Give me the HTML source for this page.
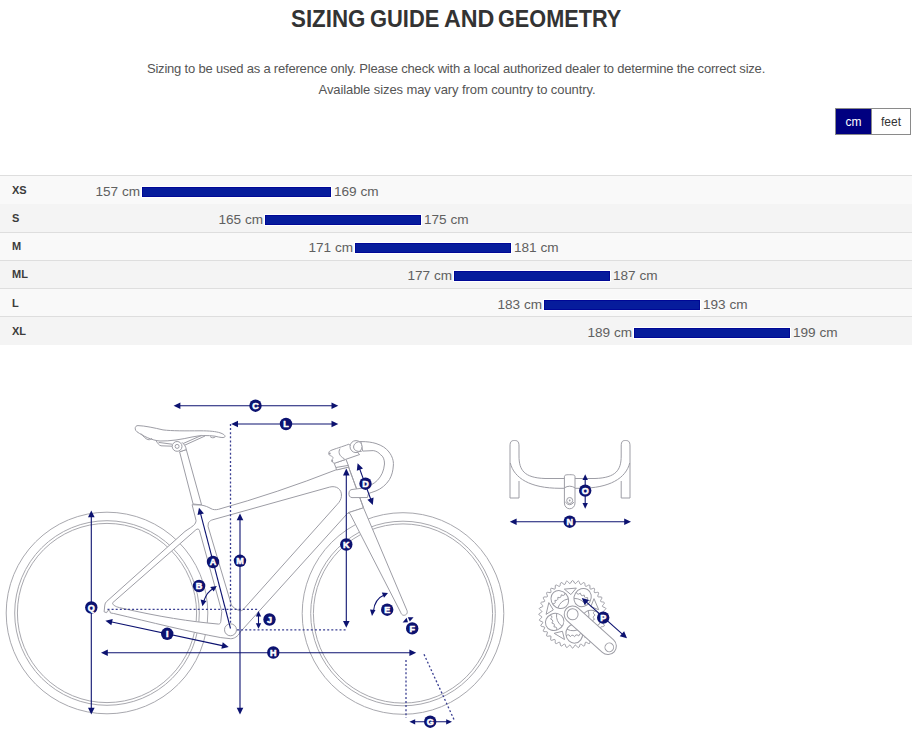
<!DOCTYPE html>
<html><head><meta charset="utf-8">
<style>
html,body{margin:0;padding:0;background:#fff;}
body{width:924px;height:738px;position:relative;overflow:hidden;font-family:"Liberation Sans",sans-serif;}
.abs{position:absolute;white-space:nowrap;}
.tw{top:5px;font-size:24px;font-weight:bold;color:#333;line-height:28px;transform-origin:0 0;}
.sub{left:0;width:912px;text-align:center;font-size:13px;color:#555;letter-spacing:-0.2px;line-height:16px;}
#toggle{left:835px;top:108px;width:74px;height:25px;border:1px solid #8a8a8a;background:#fff;font-size:12px;}
#toggle .cm{position:absolute;left:0;top:0;width:35px;height:25px;background:#000080;color:#fff;text-align:center;line-height:26px;border-right:1px solid #8a8a8a;}
#toggle .ft{position:absolute;left:36px;top:0;width:38px;height:25px;color:#333;text-align:center;line-height:26px;}

.row{position:relative;height:28px;}
.row.a{background:#f9f9f9;}
.row.b{background:#f3f3f3;}
.bl{border-top:1px solid #dcdcdc;}
.lab{position:absolute;left:12px;top:8px;font-size:11px;font-weight:bold;color:#3c3c3c;}
.bar{position:absolute;height:8px;background:#061c9c;border:1px solid #000896;box-shadow:0 0 0 1px #fff;}
.rt{position:absolute;font-size:13.6px;color:#606060;line-height:15px;}
</style></head><body>
<div class="abs tw" style="left:291.1px;transform:scaleX(0.9295)">SIZING</div><div class="abs tw" style="left:370.3px;transform:scaleX(0.9122)">GUIDE</div><div class="abs tw" style="left:443.7px;transform:scaleX(0.9700)">AND</div><div class="abs tw" style="left:498.4px;transform:scaleX(0.9037)">GEOMETRY</div>
<div class="abs sub" style="top:61px">Sizing to be used as a reference only. Please check with a local authorized dealer to determine the correct size.</div>
<div class="abs sub" style="top:82px;left:1px;letter-spacing:-0.09px">Available sizes may vary from country to country.</div>
<div id="toggle" class="abs"><div class="cm">cm</div><div class="ft">feet</div></div>
<div id="table">
<div class="abs" style="left:0;top:175px;width:912px;height:1px;background:#dedede"></div>
<div class="abs" style="left:0;top:176px;width:912px;height:28px;background:#f9f9f9"></div>
<div class="abs lab" style="top:184px">XS</div>
<div class="abs bar" style="left:142px;top:187px;width:187px"></div>
<div class="abs rt" style="right:784px;top:184px">157 cm</div>
<div class="abs rt" style="left:334px;top:184px">169 cm</div>
<div class="abs" style="left:0;top:204px;width:912px;height:28px;background:#f4f4f4"></div>
<div class="abs lab" style="top:212px">S</div>
<div class="abs bar" style="left:265px;top:215px;width:154px"></div>
<div class="abs rt" style="right:661px;top:212px">165 cm</div>
<div class="abs rt" style="left:424px;top:212px">175 cm</div>
<div class="abs" style="left:0;top:232px;width:912px;height:1px;background:#dedede"></div>
<div class="abs" style="left:0;top:233px;width:912px;height:27px;background:#f9f9f9"></div>
<div class="abs lab" style="top:240px">M</div>
<div class="abs bar" style="left:355px;top:243px;width:154px"></div>
<div class="abs rt" style="right:571px;top:240px">171 cm</div>
<div class="abs rt" style="left:514px;top:240px">181 cm</div>
<div class="abs" style="left:0;top:260px;width:912px;height:1px;background:#dedede"></div>
<div class="abs" style="left:0;top:261px;width:912px;height:27px;background:#f4f4f4"></div>
<div class="abs lab" style="top:268px">ML</div>
<div class="abs bar" style="left:454px;top:271px;width:154px"></div>
<div class="abs rt" style="right:472px;top:268px">177 cm</div>
<div class="abs rt" style="left:613px;top:268px">187 cm</div>
<div class="abs" style="left:0;top:288px;width:912px;height:1px;background:#dedede"></div>
<div class="abs" style="left:0;top:289px;width:912px;height:27px;background:#f9f9f9"></div>
<div class="abs lab" style="top:297px">L</div>
<div class="abs bar" style="left:544px;top:300px;width:154px"></div>
<div class="abs rt" style="right:382px;top:297px">183 cm</div>
<div class="abs rt" style="left:703px;top:297px">193 cm</div>
<div class="abs" style="left:0;top:316px;width:912px;height:1px;background:#dedede"></div>
<div class="abs" style="left:0;top:317px;width:912px;height:28px;background:#f4f4f4"></div>
<div class="abs lab" style="top:325px">XL</div>
<div class="abs bar" style="left:634px;top:328px;width:154px"></div>
<div class="abs rt" style="right:292px;top:325px">189 cm</div>
<div class="abs rt" style="left:793px;top:325px">199 cm</div>
</div>
<svg class="abs" style="left:0;top:0" width="924" height="738" viewBox="0 0 924 738">
<circle cx="107" cy="613" r="100.8" fill="none" stroke="#a8a8ae" stroke-width="1"/>
<circle cx="107" cy="613" r="92.3" fill="none" stroke="#a8a8ae" stroke-width="1"/>
<circle cx="107" cy="613" r="89.6" fill="none" stroke="#a8a8ae" stroke-width="1"/>
<circle cx="403" cy="613.5" r="100.8" fill="none" stroke="#a8a8ae" stroke-width="1"/>
<circle cx="403" cy="613.5" r="92.3" fill="none" stroke="#a8a8ae" stroke-width="1"/>
<circle cx="403" cy="613.5" r="89.6" fill="none" stroke="#a8a8ae" stroke-width="1"/>
<path d="M179.6,451.8 L186.3,449.6 L201.6,504.9 L193.1,504 Z" fill="#fff" stroke="#9d9da5" stroke-width="1" stroke-linejoin="round"/>
<path d="M192.1,504.7 L201.2,505.1 C205,505.6 208.5,507.2 211,508.6 C213,509.8 215.5,510 218.5,509.3 Q277,493 336.4,469.7 L348.6,467 L363.5,507.8 L348,512.8 L240.2,632.1 C238,636.5 234,638.8 230.5,638.7 L220.8,637.6 C190,632 150,622 113.3,613.4 L110.5,613 L109.6,610.6 L107.8,610.6 L106.6,612.7 L104.1,611.8 L104.8,605.1 C105,603.5 105.6,602.5 106.6,601.5 L185,531.4 C189,528.5 193,526.5 194.7,524.2 C195.8,522.5 196.2,521 196,520.3 Z M112.7,602.7 L195.8,529.9 C197.3,528.6 198.9,528.6 199.5,530.6 L221.8,611.6 L220.8,621.4 C220.5,623.5 219.5,624.2 218.6,624.1 C190,621.5 160,617 119.4,607.6 C115,606.5 112,604.5 112.7,602.7 Z M208.4,522.9 C209.5,521 211,520.2 212.9,519.7 L329.6,487.1 C336,485.3 342.3,489 341.4,496.5 C341,499.5 339.5,502 337.4,504.2 L243.6,609.1 C242,610.8 240.5,611 239.5,610.5 C236,609.5 233,607.5 231.4,605 L208,526.2 Z" fill="#fff" fill-rule="evenodd" stroke="#9d9da5" stroke-width="1" stroke-linejoin="round"/>
<path d="M348,512.8 L363.5,507.8 L407,610.6 C408,613.5 406,615.3 403.8,615.3 C402,615.3 401,613.5 400.6,612.2 L350,513.7 Z" fill="#fff" stroke="#9d9da5" stroke-width="1" stroke-linejoin="round"/>
<path d="M346,460 L363.5,507.8" fill="none" stroke="#9d9da5" stroke-width="1"/>
<circle cx="230.5" cy="629.8" r="6" fill="#fff" stroke="#9d9da5" stroke-width="1"/>
<path d="M334.2,463.2 L346,459.4 L348.3,465.4 L335.8,467.5 Z M335.8,467.5 L336.6,470 L348.8,467 L348.3,465.4" fill="#fff" stroke="#9d9da5" stroke-width="1" stroke-linejoin="round"/>
<path d="M330.4,450.7 C334,449 343,446.5 348.9,444.2 L359.7,454.5 L345.6,459.4 L334.8,463.2 C331.5,462.5 331,460 333,458.5 C334,457.5 331.5,456 330,455.5 C328,454.5 328.5,451.5 330.4,450.7 Z" fill="#fff" stroke="#9d9da5" stroke-width="1" stroke-linejoin="round"/>
<path d="M340,448.6 C338,452 339,456 344.5,458.9" fill="none" stroke="#9d9da5" stroke-width="1"/>
<circle cx="329.8" cy="453.5" r="0.9" fill="#9d9da5"/><circle cx="332.3" cy="461" r="0.9" fill="#9d9da5"/>
<path d="M360.9,441.6 C367,441.5 372,442.3 376,443.5 C382,445.5 386,448 389,452 C392.5,456.5 393.6,461 393.4,465 C393,471 392,475 389.5,479.5 C386.5,484.5 381,489 376,490.9 C373,492 370.5,492.8 368.4,493.5 L367.5,497.5 L352,497.6 C349.5,497.5 348.6,495 349,492.8 C349.3,490.5 350.5,489.7 352,489.5 L362.7,488.1 C369,486.5 374.5,483.5 377.5,480.2 C381.5,476 383.8,471 384.5,464 C384.6,459.5 383,456 380.8,454.9 C378.5,452.2 376,451 373.2,450.6 L362.7,451.1 Z" fill="#fff" stroke="#9d9da5" stroke-width="1" stroke-linejoin="round"/>
<circle cx="356" cy="446.6" r="6" fill="#fff" stroke="#9d9da5" stroke-width="1"/>
<path d="M361.3,441.6 C357,441.2 353.5,444 353.6,447 C353.7,450 356.5,452 361.8,451.3" fill="none" stroke="#9d9da5" stroke-width="1"/>
<path d="M138,425.6 C145,425.8 155,428 163,429.9 C172,431 185,430.9 200,430.8 C210,430.8 216,431.5 220,432.8 C224,434 226,436 224.5,437.2 C223,438 220,437.4 215,436.2 C208,435.2 200,435.2 192,437 C182,439.3 170,441.3 160,441 C152,440.5 143,436 137,431.8 C134.8,430.2 134.8,427.5 136,426.3 C136.5,425.8 137.2,425.6 138,425.6 Z" fill="#fff" stroke="#9d9da5" stroke-width="1" stroke-linejoin="round"/>
<path d="M141,433.5 C143,436 145.5,439 148,439.6 C150,439.9 151.3,439.5 151.8,438.2 M156,440.6 C157.5,443 158.8,445.2 161,445.8 L172,446.2 M158.6,442.4 L172,444.2 M183,443.6 L201.5,435.4 M184,445.5 L205,436 M210,436.4 C211,438 214,438.3 215.5,436.8" fill="none" stroke="#9d9da5" stroke-width="1"/>
<path d="M182,442.3 C184.5,444.5 186,447 186.3,449.6 L179.6,451.8" fill="#fff" stroke="#9d9da5" stroke-width="1"/>
<circle cx="177.1" cy="446.4" r="4.9" fill="#fff" stroke="#9d9da5" stroke-width="1"/><circle cx="177.1" cy="446.4" r="2" fill="none" stroke="#9d9da5" stroke-width="1"/>
<path d="M510,498 L510,446 C510,441 512,440.5 514.5,440.5 C517,440.5 519,441 519,446 L519,456 C519,470 524,477.8 545,478.5 L595,478.5 C616,477.8 621.2,470 621.2,456 L621.2,446 C621.2,441 623,440.5 625.5,440.5 C628,440.5 630,441 630,446 L630,498 L621.2,498 L621.2,481 M519,481 L519,498 L510,498" fill="none" stroke="#9d9da5" stroke-width="1" stroke-linejoin="round"/>
<path d="M510.3,463 C514,478 530,488.3 560,488.3 L580,488.3 C610,488.3 626,478 629.7,463" fill="none" stroke="#9d9da5" stroke-width="1"/>
<path d="M564.4,477 C564.4,475 565.5,474.7 569.7,474.7 C574,474.7 575,475 575,477 L575,503 C575,506.5 572.5,508.8 569.7,508.8 C566.9,508.8 564.4,506.5 564.4,503 Z" fill="#fff" stroke="#9d9da5" stroke-width="1" stroke-linejoin="round"/>
<path d="M564.4,487.8 Q569.7,484.6 575,487.8 M565.3,502 Q569.7,507.5 574.1,502" fill="none" stroke="#9d9da5" stroke-width="1"/>
<circle cx="569.7" cy="500.5" r="3" fill="none" stroke="#9d9da5" stroke-width="1"/><circle cx="569.7" cy="500.5" r="0.9" fill="#9d9da5"/>
<path d="M572.60,580.50 L573.33,580.95 L574.01,582.03 L574.64,583.13 L575.28,583.62 L576.00,583.25 L576.82,582.28 L577.67,581.33 L578.47,581.01 L579.11,581.58 L579.59,582.77 L580.03,583.96 L580.57,584.55 L581.34,584.31 L582.31,583.49 L583.32,582.71 L584.16,582.54 L584.69,583.21 L584.96,584.46 L585.18,585.71 L585.62,586.39 L586.42,586.28 L587.51,585.65 L588.65,585.05 L589.50,585.03 L589.91,585.78 L589.95,587.06 L589.96,588.33 L590.27,589.07 L591.07,589.11 L592.26,588.67 L593.48,588.28 L594.33,588.41 L594.60,589.22 L594.42,590.49 L594.20,591.73 L594.38,592.52 L595.17,592.70 L596.41,592.48 L597.68,592.30 L598.49,592.57 L598.62,593.42 L598.23,594.64 L597.79,595.83 L597.83,596.63 L598.57,596.94 L599.84,596.95 L601.12,596.99 L601.87,597.40 L601.85,598.25 L601.25,599.39 L600.62,600.48 L600.51,601.28 L601.19,601.72 L602.44,601.94 L603.69,602.21 L604.36,602.74 L604.19,603.58 L603.41,604.59 L602.59,605.56 L602.35,606.33 L602.94,606.87 L604.13,607.31 L605.32,607.79 L605.89,608.43 L605.57,609.23 L604.62,610.08 L603.65,610.90 L603.28,611.62 L603.77,612.26 L604.87,612.89 L605.95,613.57 L606.40,614.30 L605.95,615.03 L604.87,615.71 L603.77,616.34 L603.28,616.98 L603.65,617.70 L604.62,618.52 L605.57,619.37 L605.89,620.17 L605.32,620.81 L604.13,621.29 L602.94,621.73 L602.35,622.27 L602.59,623.04 L603.41,624.01 L604.19,625.02 L604.36,625.86 L603.69,626.39 L602.44,626.66 L601.19,626.88 L600.51,627.32 L600.62,628.12 L601.25,629.21 L601.85,630.35 L601.87,631.20 L601.12,631.61 L599.84,631.65 L598.57,631.66 L597.83,631.97 L597.79,632.77 L598.23,633.96 L598.62,635.18 L598.49,636.03 L597.68,636.30 L596.41,636.12 L595.17,635.90 L594.38,636.08 L594.20,636.87 L594.42,638.11 L594.60,639.38 L594.33,640.19 L593.48,640.32 L592.26,639.93 L591.07,639.49 L590.27,639.53 L589.96,640.27 L589.95,641.54 L589.91,642.82 L589.50,643.57 L588.65,643.55 L587.51,642.95 L586.42,642.32 L585.62,642.21 L585.18,642.89 L584.96,644.14 L584.69,645.39 L584.16,646.06 L583.32,645.89 L582.31,645.11 L581.34,644.29 L580.57,644.05 L580.03,644.64 L579.59,645.83 L579.11,647.02 L578.47,647.59 L577.67,647.27 L576.82,646.32 L576.00,645.35 L575.28,644.98 L574.64,645.47 L574.01,646.57 L573.33,647.65 L572.60,648.10 L571.87,647.65 L571.19,646.57 L570.56,645.47 L569.92,644.98 L569.20,645.35 L568.38,646.32 L567.53,647.27 L566.73,647.59 L566.09,647.02 L565.61,645.83 L565.17,644.64 L564.63,644.05 L563.86,644.29 L562.89,645.11 L561.88,645.89 L561.04,646.06 L560.51,645.39 L560.24,644.14 L560.02,642.89 L559.58,642.21 L558.78,642.32 L557.69,642.95 L556.55,643.55 L555.70,643.57 L555.29,642.82 L555.25,641.54 L555.24,640.27 L554.93,639.53 L554.13,639.49 L552.94,639.93 L551.72,640.32 L550.87,640.19 L550.60,639.38 L550.78,638.11 L551.00,636.87 L550.82,636.08 L550.03,635.90 L548.79,636.12 L547.52,636.30 L546.71,636.03 L546.58,635.18 L546.97,633.96 L547.41,632.77 L547.37,631.97 L546.63,631.66 L545.36,631.65 L544.08,631.61 L543.33,631.20 L543.35,630.35 L543.95,629.21 L544.58,628.12 L544.69,627.32 L544.01,626.88 L542.76,626.66 L541.51,626.39 L540.84,625.86 L541.01,625.02 L541.79,624.01 L542.61,623.04 L542.85,622.27 L542.26,621.73 L541.07,621.29 L539.88,620.81 L539.31,620.17 L539.63,619.37 L540.58,618.52 L541.55,617.70 L541.92,616.98 L541.43,616.34 L540.33,615.71 L539.25,615.03 L538.80,614.30 L539.25,613.57 L540.33,612.89 L541.43,612.26 L541.92,611.62 L541.55,610.90 L540.58,610.08 L539.63,609.23 L539.31,608.43 L539.88,607.79 L541.07,607.31 L542.26,606.87 L542.85,606.33 L542.61,605.56 L541.79,604.59 L541.01,603.58 L540.84,602.74 L541.51,602.21 L542.76,601.94 L544.01,601.72 L544.69,601.28 L544.58,600.48 L543.95,599.39 L543.35,598.25 L543.33,597.40 L544.08,596.99 L545.36,596.95 L546.63,596.94 L547.37,596.63 L547.41,595.83 L546.97,594.64 L546.58,593.42 L546.71,592.57 L547.52,592.30 L548.79,592.48 L550.03,592.70 L550.82,592.52 L551.00,591.73 L550.78,590.49 L550.60,589.22 L550.87,588.41 L551.72,588.28 L552.94,588.67 L554.13,589.11 L554.93,589.07 L555.24,588.33 L555.25,587.06 L555.29,585.78 L555.70,585.03 L556.55,585.05 L557.69,585.65 L558.78,586.28 L559.58,586.39 L560.02,585.71 L560.24,584.46 L560.51,583.21 L561.04,582.54 L561.88,582.71 L562.89,583.49 L563.86,584.31 L564.63,584.55 L565.17,583.96 L565.61,582.77 L566.09,581.58 L566.73,581.01 L567.53,581.33 L568.38,582.28 L569.20,583.25 L569.92,583.62 L570.56,583.13 L571.19,582.03 L571.87,580.95 Z" fill="#fff" stroke="#9d9da5" stroke-width="1" stroke-linejoin="round"/>
<ellipse cx="559.81" cy="599.58" rx="8.4" ry="9.4" transform="rotate(-41.0 559.81 599.58)" fill="none" stroke="#9d9da5" stroke-width="1"/>
<path d="M570.87,594.58 L564.33,589.12 L576.37,588.07 Z" fill="none" stroke="#9d9da5" stroke-width="1" stroke-linejoin="round"/>
<path d="M552.59,604.01 L554.57,603.53 L555.29,602.41 L554.90,600.41 L556.93,600.32 L557.85,599.35 L557.84,597.32 L559.85,597.61 L560.94,596.84 L561.31,594.84 L563.23,595.50 L564.44,594.95 L565.19,593.06" fill="none" stroke="#9d9da5" stroke-width="1"/>
<path d="M557.90,607.99 Q560.46,600.34 568.40,598.86" fill="none" stroke="#9d9da5" stroke-width="1"/>
<ellipse cx="582.64" cy="597.59" rx="8.4" ry="9.4" transform="rotate(31.0 582.64 597.59)" fill="none" stroke="#9d9da5" stroke-width="1"/>
<path d="M590.83,606.56 L593.99,598.66 L598.71,609.78 Z" fill="none" stroke="#9d9da5" stroke-width="1" stroke-linejoin="round"/>
<path d="M576.21,592.09 L577.27,593.83 L578.56,594.16 L580.34,593.17 L581.06,595.08 L582.25,595.65 L584.19,595.01 L584.53,597.02 L585.60,597.81 L587.62,597.55 L587.58,599.58 L588.48,600.56 L590.52,600.69" fill="none" stroke="#9d9da5" stroke-width="1"/>
<path d="M574.05,598.37 Q582.13,598.44 585.99,605.54" fill="none" stroke="#9d9da5" stroke-width="1"/>
<ellipse cx="591.60" cy="618.69" rx="8.4" ry="9.4" transform="rotate(103.0 591.60 618.69)" fill="none" stroke="#9d9da5" stroke-width="1"/>
<path d="M585.59,629.24 L594.09,629.81 L584.97,637.74 Z" fill="none" stroke="#9d9da5" stroke-width="1" stroke-linejoin="round"/>
<path d="M594.84,610.87 L593.52,612.42 L593.59,613.74 L595.08,615.13 L593.49,616.40 L593.32,617.72 L594.52,619.36 L592.72,620.31 L592.30,621.57 L593.17,623.41 L591.22,624.00 L590.57,625.16 L591.08,627.13" fill="none" stroke="#9d9da5" stroke-width="1"/>
<path d="M588.20,610.76 Q590.63,618.46 585.07,624.32" fill="none" stroke="#9d9da5" stroke-width="1"/>
<ellipse cx="574.30" cy="633.73" rx="8.4" ry="9.4" transform="rotate(175.0 574.30 633.73)" fill="none" stroke="#9d9da5" stroke-width="1"/>
<path d="M562.40,631.27 L564.49,639.53 L554.13,633.31 Z" fill="none" stroke="#9d9da5" stroke-width="1" stroke-linejoin="round"/>
<path d="M582.74,634.39 L580.85,633.61 L579.62,634.09 L578.76,635.94 L577.06,634.82 L575.75,635.06 L574.56,636.71 L573.10,635.29 L571.77,635.28 L570.29,636.68 L569.13,635.01 L567.82,634.75 L566.11,635.84" fill="none" stroke="#9d9da5" stroke-width="1"/>
<path d="M580.79,628.05 Q574.21,632.73 566.92,629.26" fill="none" stroke="#9d9da5" stroke-width="1"/>
<ellipse cx="554.65" cy="621.92" rx="8.4" ry="9.4" transform="rotate(247.0 554.65 621.92)" fill="none" stroke="#9d9da5" stroke-width="1"/>
<path d="M553.31,609.85 L546.10,614.38 L548.82,602.61 Z" fill="none" stroke="#9d9da5" stroke-width="1" stroke-linejoin="round"/>
<path d="M556.63,630.15 L556.79,628.12 L555.94,627.09 L553.92,626.84 L554.46,624.88 L553.83,623.71 L551.89,623.09 L552.79,621.27 L552.39,620.00 L550.60,619.02 L551.83,617.40 L551.68,616.08 L550.11,614.78" fill="none" stroke="#9d9da5" stroke-width="1"/>
<path d="M562.06,626.34 Q555.57,621.53 556.62,613.52" fill="none" stroke="#9d9da5" stroke-width="1"/>
<g transform="translate(572.6,614.3) rotate(42.05)"><rect x="-8.4" y="-8.4" width="64.42" height="16.8" rx="8.4" fill="#fff" stroke="#9d9da5" stroke-width="1"/><circle cx="0" cy="0" r="5.5" fill="none" stroke="#9d9da5" stroke-width="1"/><circle cx="49.42" cy="0" r="4.3" fill="none" stroke="#9d9da5" stroke-width="1"/></g>
<path d="M230.5,424 L230.5,625" stroke="#3a3f92" stroke-width="1.3" stroke-dasharray="2 2.1" fill="none"/>
<path d="M107.5,609.3 L259,609.3" stroke="#3a3f92" stroke-width="1.3" stroke-dasharray="2 2.1" fill="none"/>
<path d="M237,629.8 L346,629.8" stroke="#3a3f92" stroke-width="1.3" stroke-dasharray="2 2.1" fill="none"/>
<path d="M406,660 L406,718" stroke="#3a3f92" stroke-width="1.3" stroke-dasharray="2 2.1" fill="none"/>
<path d="M424,654.3 L454.4,720.4" stroke="#3a3f92" stroke-width="1.3" stroke-dasharray="2 2.1" fill="none"/>
<path d="M179.04,405.70 L332.86,405.70" stroke="#0c1270" stroke-width="1.1" fill="none"/><path d="M173.60,405.70 L180.40,402.40 L180.40,409.00 Z" fill="#0c1270"/><path d="M338.30,405.70 L331.50,409.00 L331.50,402.40 Z" fill="#0c1270"/>
<path d="M236.64,424.00 L332.86,424.00" stroke="#0c1270" stroke-width="1.1" fill="none"/><path d="M231.20,424.00 L238.00,420.70 L238.00,427.30 Z" fill="#0c1270"/><path d="M338.30,424.00 L331.50,427.30 L331.50,420.70 Z" fill="#0c1270"/>
<path d="M91.30,515.94 L91.30,709.06" stroke="#0c1270" stroke-width="1.1" fill="none"/><path d="M91.30,510.50 L94.60,517.30 L88.00,517.30 Z" fill="#0c1270"/><path d="M91.30,714.50 L88.00,707.70 L94.60,707.70 Z" fill="#0c1270"/>
<path d="M230.50,628.50 L200.37,512.96" stroke="#0c1270" stroke-width="1.1" fill="none"/><path d="M199.00,507.70 L203.91,513.45 L197.52,515.11 Z" fill="#0c1270"/>
<path d="M240.00,709.06 L240.00,518.94" stroke="#0c1270" stroke-width="1.1" fill="none"/><path d="M240.00,714.50 L236.70,707.70 L243.30,707.70 Z" fill="#0c1270"/><path d="M240.00,513.50 L243.30,520.30 L236.70,520.30 Z" fill="#0c1270"/>
<path d="M258.50,615.40 L258.50,624.40" stroke="#0c1270" stroke-width="1.1" fill="none"/><path d="M258.50,611.00 L261.20,616.50 L255.80,616.50 Z" fill="#0c1270"/><path d="M258.50,628.80 L255.80,623.30 L261.20,623.30 Z" fill="#0c1270"/>
<path d="M346.30,622.36 L346.30,474.04" stroke="#0c1270" stroke-width="1.1" fill="none"/><path d="M346.30,627.80 L343.00,621.00 L349.60,621.00 Z" fill="#0c1270"/><path d="M346.30,468.60 L349.60,475.40 L343.00,475.40 Z" fill="#0c1270"/>
<path d="M359.47,468.41 L370.93,499.79" stroke="#0c1270" stroke-width="1.1" fill="none"/><path d="M357.60,463.30 L363.03,468.55 L356.83,470.82 Z" fill="#0c1270"/><path d="M372.80,504.90 L367.37,499.65 L373.57,497.38 Z" fill="#0c1270"/>
<path d="M110.72,621.83 L223.38,645.87" stroke="#0c1270" stroke-width="1.1" fill="none"/><path d="M105.40,620.70 L112.74,618.89 L111.36,625.35 Z" fill="#0c1270"/><path d="M228.70,647.00 L221.36,648.81 L222.74,642.35 Z" fill="#0c1270"/>
<path d="M106.44,652.70 L410.76,652.70" stroke="#0c1270" stroke-width="1.1" fill="none"/><path d="M101.00,652.70 L107.80,649.40 L107.80,656.00 Z" fill="#0c1270"/><path d="M416.20,652.70 L409.40,656.00 L409.40,649.40 Z" fill="#0c1270"/>
<path d="M414.04,721.80 L447.36,721.80" stroke="#0c1270" stroke-width="1.1" fill="none"/><path d="M409.40,721.80 L415.20,719.20 L415.20,724.40 Z" fill="#0c1270"/><path d="M452.00,721.80 L446.20,724.40 L446.20,719.20 Z" fill="#0c1270"/>
<path d="M585.20,478.84 L585.20,504.16" stroke="#0c1270" stroke-width="1.1" fill="none"/><path d="M585.20,474.20 L587.90,480.00 L582.50,480.00 Z" fill="#0c1270"/><path d="M585.20,508.80 L582.50,503.00 L587.90,503.00 Z" fill="#0c1270"/>
<path d="M515.24,521.70 L625.56,521.70" stroke="#0c1270" stroke-width="1.1" fill="none"/><path d="M509.80,521.70 L516.60,518.40 L516.60,525.00 Z" fill="#0c1270"/><path d="M631.00,521.70 L624.20,525.00 L624.20,518.40 Z" fill="#0c1270"/>
<path d="M585.86,601.62 L622.94,634.68" stroke="#0c1270" stroke-width="1.1" fill="none"/><path d="M581.80,598.00 L589.07,600.06 L584.68,604.99 Z" fill="#0c1270"/><path d="M627.00,638.30 L619.73,636.24 L624.12,631.31 Z" fill="#0c1270"/>
<path d="M203.8,601 Q207,591.5 213.5,588.4" stroke="#0c1270" stroke-width="1.1" fill="none"/>
<path d="M202.4,606.2 L200.6,599.6 L206.4,601 Z M216.8,586 L210.2,586.9 L213.7,591.5 Z" fill="#0c1270"/>
<path d="M373.5,611 Q374.5,599 385,594.5" stroke="#0c1270" stroke-width="1.1" fill="none"/>
<path d="M372,616 L370,609.5 L375.5,610 Z M388,593 L381.8,592.5 L384,597.8 Z" fill="#0c1270"/>
<path d="M402.6,622.5 L406.6,617.8 L408,622.3 Z M413.6,617.2 L407.8,617.3 L409.8,621.6 Z" fill="#0c1270"/>
<circle cx="255.5" cy="405.7" r="6.2" fill="#0c1270"/><text x="255.5" y="409.0" text-anchor="middle" font-family="Liberation Sans" font-weight="bold" font-size="9" fill="#fff" stroke="#fff" stroke-width="0.55" stroke-linejoin="round">C</text>
<circle cx="286" cy="424" r="6.2" fill="#0c1270"/><text x="286" y="427.3" text-anchor="middle" font-family="Liberation Sans" font-weight="bold" font-size="9" fill="#fff" stroke="#fff" stroke-width="0.55" stroke-linejoin="round">L</text>
<circle cx="91.3" cy="607.5" r="6.2" fill="#0c1270"/><text x="91.3" y="610.8" text-anchor="middle" font-family="Liberation Sans" font-weight="bold" font-size="9" fill="#fff" stroke="#fff" stroke-width="0.55" stroke-linejoin="round">Q</text>
<circle cx="213" cy="562" r="6.2" fill="#0c1270"/><text x="213" y="565.3" text-anchor="middle" font-family="Liberation Sans" font-weight="bold" font-size="9" fill="#fff" stroke="#fff" stroke-width="0.55" stroke-linejoin="round">A</text>
<circle cx="199.1" cy="586" r="6.2" fill="#0c1270"/><text x="199.1" y="589.3" text-anchor="middle" font-family="Liberation Sans" font-weight="bold" font-size="9" fill="#fff" stroke="#fff" stroke-width="0.55" stroke-linejoin="round">B</text>
<circle cx="240" cy="560.8" r="6.2" fill="#0c1270"/><text x="240" y="564.0999999999999" text-anchor="middle" font-family="Liberation Sans" font-weight="bold" font-size="9" fill="#fff" stroke="#fff" stroke-width="0.55" stroke-linejoin="round">M</text>
<circle cx="269.5" cy="619.5" r="6.2" fill="#0c1270"/><text x="269.5" y="622.8" text-anchor="middle" font-family="Liberation Sans" font-weight="bold" font-size="9" fill="#fff" stroke="#fff" stroke-width="0.55" stroke-linejoin="round">J</text>
<circle cx="167.2" cy="633.8" r="6.2" fill="#0c1270"/><text x="167.2" y="637.0999999999999" text-anchor="middle" font-family="Liberation Sans" font-weight="bold" font-size="9" fill="#fff" stroke="#fff" stroke-width="0.55" stroke-linejoin="round">I</text>
<circle cx="273.3" cy="652.5" r="6.2" fill="#0c1270"/><text x="273.3" y="655.8" text-anchor="middle" font-family="Liberation Sans" font-weight="bold" font-size="9" fill="#fff" stroke="#fff" stroke-width="0.55" stroke-linejoin="round">H</text>
<circle cx="346.3" cy="544.5" r="6.2" fill="#0c1270"/><text x="346.3" y="547.8" text-anchor="middle" font-family="Liberation Sans" font-weight="bold" font-size="9" fill="#fff" stroke="#fff" stroke-width="0.55" stroke-linejoin="round">K</text>
<circle cx="365.5" cy="483.7" r="6.2" fill="#0c1270"/><text x="365.5" y="487.0" text-anchor="middle" font-family="Liberation Sans" font-weight="bold" font-size="9" fill="#fff" stroke="#fff" stroke-width="0.55" stroke-linejoin="round">D</text>
<circle cx="387.2" cy="609.7" r="6.2" fill="#0c1270"/><text x="387.2" y="613.0" text-anchor="middle" font-family="Liberation Sans" font-weight="bold" font-size="9" fill="#fff" stroke="#fff" stroke-width="0.55" stroke-linejoin="round">E</text>
<circle cx="412.2" cy="628.4" r="6.2" fill="#0c1270"/><text x="412.2" y="631.6999999999999" text-anchor="middle" font-family="Liberation Sans" font-weight="bold" font-size="9" fill="#fff" stroke="#fff" stroke-width="0.55" stroke-linejoin="round">F</text>
<circle cx="430.2" cy="721.7" r="6.2" fill="#0c1270"/><text x="430.2" y="725.0" text-anchor="middle" font-family="Liberation Sans" font-weight="bold" font-size="9" fill="#fff" stroke="#fff" stroke-width="0.55" stroke-linejoin="round">G</text>
<circle cx="585.2" cy="490.6" r="6.2" fill="#0c1270"/><text x="585.2" y="493.90000000000003" text-anchor="middle" font-family="Liberation Sans" font-weight="bold" font-size="9" fill="#fff" stroke="#fff" stroke-width="0.55" stroke-linejoin="round">O</text>
<circle cx="569.7" cy="521.7" r="6.2" fill="#0c1270"/><text x="569.7" y="525.0" text-anchor="middle" font-family="Liberation Sans" font-weight="bold" font-size="9" fill="#fff" stroke="#fff" stroke-width="0.55" stroke-linejoin="round">N</text>
<circle cx="603.2" cy="617.6" r="6.2" fill="#0c1270"/><text x="603.2" y="620.9" text-anchor="middle" font-family="Liberation Sans" font-weight="bold" font-size="9" fill="#fff" stroke="#fff" stroke-width="0.55" stroke-linejoin="round">P</text>
</svg>
</body></html>
